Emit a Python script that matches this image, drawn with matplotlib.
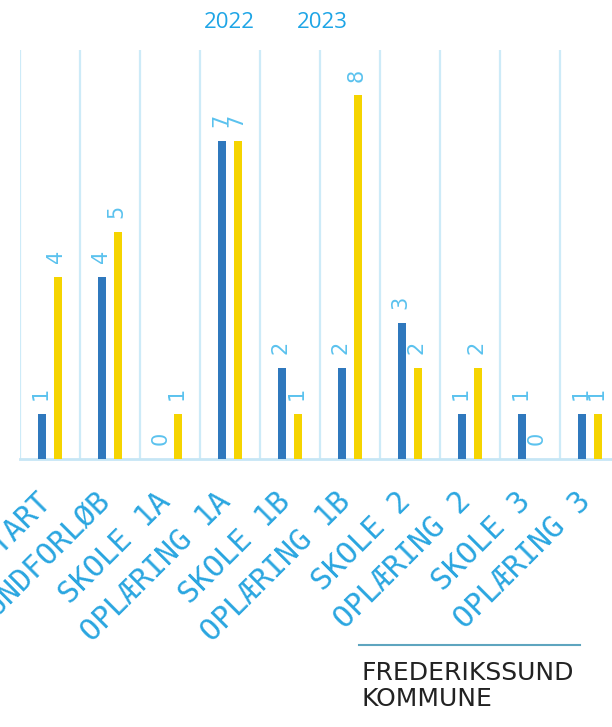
import numpy as np
import matplotlib.pyplot as plt
from matplotlib.lines import Line2D
from matplotlib.transforms import ScaledTranslation

# categories and values
categories = ['OPSTART', 'GRUNDFORLØB', 'SKOLE 1A', 'OPLÆRING 1A', 'SKOLE 1B',
              'OPLÆRING 1B', 'SKOLE 2', 'OPLÆRING 2', 'SKOLE 3', 'OPLÆRING 3']
years = ['2022', '2023']
values_2022 = [1, 4, 0, 7, 2, 2, 3, 1, 1, 1]
values_2023 = [4, 5, 1, 7, 1, 8, 2, 2, 0, 1]

blue = '#2F78BD'
yellow = '#F5D400'
label_col = '#2AA6E0'
value_col = '#5BC2EE'
grid_col = '#CDEBF8'

fig = plt.figure(figsize=(6.12, 7.27), dpi=100)
ax = fig.add_axes([20/612, 268/727, 600/612, 409/727])

x = np.arange(len(categories))
w = 0.14
b1 = ax.bar(x - 0.13, values_2022, w, color=blue, label=years[0], zorder=3)
b2 = ax.bar(x + 0.13, values_2023, w, color=yellow, label=years[1], zorder=3)

# value labels, rotated like the original
for bars in (b1, b2):
    for rect in bars:
        h = rect.get_height()
        ax.annotate(str(int(h)), (rect.get_x() + rect.get_width()/2, h),
                    xytext=(-1, 10), textcoords='offset points',
                    ha='center', va='bottom', rotation=90,
                    fontsize=15, color=value_col, family='DejaVu Sans')

ax.set_xlim(-0.5, len(categories) - 0.5)
ax.set_ylim(0, 9)
ax.set_yticks([])

ax.set_xticks(x)
ax.set_xticklabels(categories, rotation=45, ha='right', va='top',
                   rotation_mode='anchor', fontsize=21.5, color=label_col,
                   family='DejaVu Sans Mono')
ax.tick_params(axis='x', which='major', length=0, pad=20)
offset = ScaledTranslation(-14/100, 0, fig.dpi_scale_trans)
for lab in ax.get_xticklabels():
    lab.set_transform(lab.get_transform() + offset)

# vertical separators between categories
ax.set_xticks(np.arange(-0.5, len(categories), 1), minor=True)
ax.tick_params(axis='x', which='minor', length=0)
ax.grid(True, which='minor', axis='x', color=grid_col, lw=1.6, zorder=0)

for s in ['top', 'left', 'right']:
    ax.spines[s].set_visible(False)
ax.spines['bottom'].set_color('#C6E6F5')
ax.spines['bottom'].set_linewidth(2)

# legend: text only
leg = fig.legend(handles=[b1, b2], labels=years, loc='center',
                 bbox_to_anchor=(276/612, 1 - 23/727), ncol=2, frameon=False,
                 handlelength=0, handletextpad=0, columnspacing=1.9,
                 prop={'family': 'Open Sans', 'size': 16})
for t in leg.get_texts():
    t.set_color('#1EA5E6')

# logo
fig.add_artist(Line2D([359/612, 580/612], [1 - 645/727, 1 - 645/727],
                      color='#5EA5BF', lw=1.5, transform=fig.transFigure))
fig.text(361/612, 1 - 680/727, 'FREDERIKSSUND', fontsize=18, color='#222222',
         family='DejaVu Sans', va='baseline', ha='left')
fig.text(361/612, 1 - 706/727, 'KOMMUNE', fontsize=18, color='#222222',
         family='DejaVu Sans', va='baseline', ha='left')

plt.savefig('out.png', dpi=100)
